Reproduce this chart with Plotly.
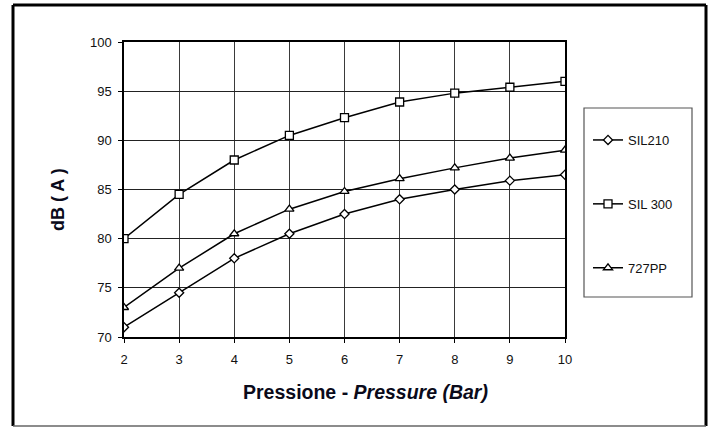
import plotly.graph_objects as go

pressure = [2, 3, 4, 5, 6, 7, 8, 9, 10]
sil210 = [71.0, 74.5, 78.0, 80.5, 82.5, 84.0, 85.0, 85.9, 86.5]
sil300 = [80.0, 84.5, 88.0, 90.5, 92.3, 93.9, 94.8, 95.4, 96.0]
pp727 = [73.0, 77.0, 80.5, 83.0, 84.8, 86.1, 87.2, 88.2, 89.0]
names = ["SIL210", "SIL 300", "727PP"]
symbols = ["diamond", "square", "triangle-up"]
sizes = [7, 8, 8]
y_ticks = [70, 75, 80, 85, 90, 95, 100]
x_ticks = [2, 3, 4, 5, 6, 7, 8, 9, 10]

W, H = 714, 428
L, R, T, B = 124, 149, 42, 91
pw, ph = W - L - R, H - T - B


def px(x):
    return (x - L) / pw


def py(y):
    return (H - B - y) / ph


fig = go.Figure()
for i, (nm, ys) in enumerate(zip(names, [sil210, sil300, pp727])):
    fig.add_trace(go.Scatter(
        x=pressure, y=ys, name=nm, mode="lines+markers",
        legendgroup=nm,
        line=dict(color="black", width=1.5),
        marker=dict(symbol=symbols[i], size=sizes[i], color="white",
                    line=dict(color="black", width=1.3)),
    ))

tick_font = dict(family="Liberation Sans, Arial, sans-serif", size=13, color="#111")
fig.update_xaxes(range=[2, 10], tickvals=x_ticks, showgrid=True,
                 gridcolor="#3a3a3a", gridwidth=1, showline=True, mirror=True,
                 linecolor="black", linewidth=1.5, ticks="outside", ticklen=4,
                 tickcolor="black", tickfont=tick_font, zeroline=False,
                 ticklabelstandoff=6)
fig.update_yaxes(range=[70, 100], tickvals=y_ticks, showgrid=True,
                 gridcolor="#222", gridwidth=1, showline=True, mirror=True,
                 linecolor="black", linewidth=1.5, ticks="outside", ticklen=4,
                 tickcolor="black", tickfont=tick_font, zeroline=False,
                 ticklabelstandoff=4)

title_family = "Liberation Sans, Arial, sans-serif"
fig.add_annotation(xref="paper", yref="paper", x=px(365), y=py(392),
                   text="<b>Pressione - <i>Pressure (Bar)</i></b>", showarrow=False,
                   xanchor="center", yanchor="middle",
                   font=dict(family=title_family, size=19.5, color="#0a0a1a"))
fig.add_annotation(xref="paper", yref="paper", x=px(58), y=py(200),
                   text="<b>dB ( A )</b>", showarrow=False, textangle=-90,
                   xanchor="center", yanchor="middle",
                   font=dict(family=title_family, size=18, color="#0a0a1a"))

# outer frame
fig.add_shape(type="line", xref="paper", yref="paper", x0=px(13), x1=px(13),
              y0=py(5), y1=py(426), line=dict(color="black", width=3))
fig.add_shape(type="line", xref="paper", yref="paper", x0=px(13), x1=px(706),
              y0=py(5), y1=py(5), line=dict(color="black", width=3))
fig.add_shape(type="line", xref="paper", yref="paper", x0=px(706), x1=px(706),
              y0=py(5), y1=py(426), line=dict(color="black", width=3))
fig.add_shape(type="line", xref="paper", yref="paper", x0=px(13), x1=px(706),
              y0=py(426), y1=py(426), line=dict(color="#666", width=1.5))
# legend frame
fig.add_shape(type="rect", xref="paper", yref="paper", x0=px(584), x1=px(692),
              y0=py(108), y1=py(297), line=dict(color="#555", width=1.2))

fig.update_layout(
    width=W, height=H,
    margin=dict(l=L, r=R, t=T, b=B),
    paper_bgcolor="white", plot_bgcolor="white",
    showlegend=True,
    legend=dict(x=px(588), y=py(125), xanchor="left", yanchor="top",
                borderwidth=0, bgcolor="rgba(0,0,0,0)",
                font=dict(family="Liberation Sans, Arial, sans-serif", size=13, color="#111"),
                tracegroupgap=44, itemwidth=30),
)

fig.write_html("out.html", config={"displayModeBar": False},
               post_script="document.body.style.margin='0';")
